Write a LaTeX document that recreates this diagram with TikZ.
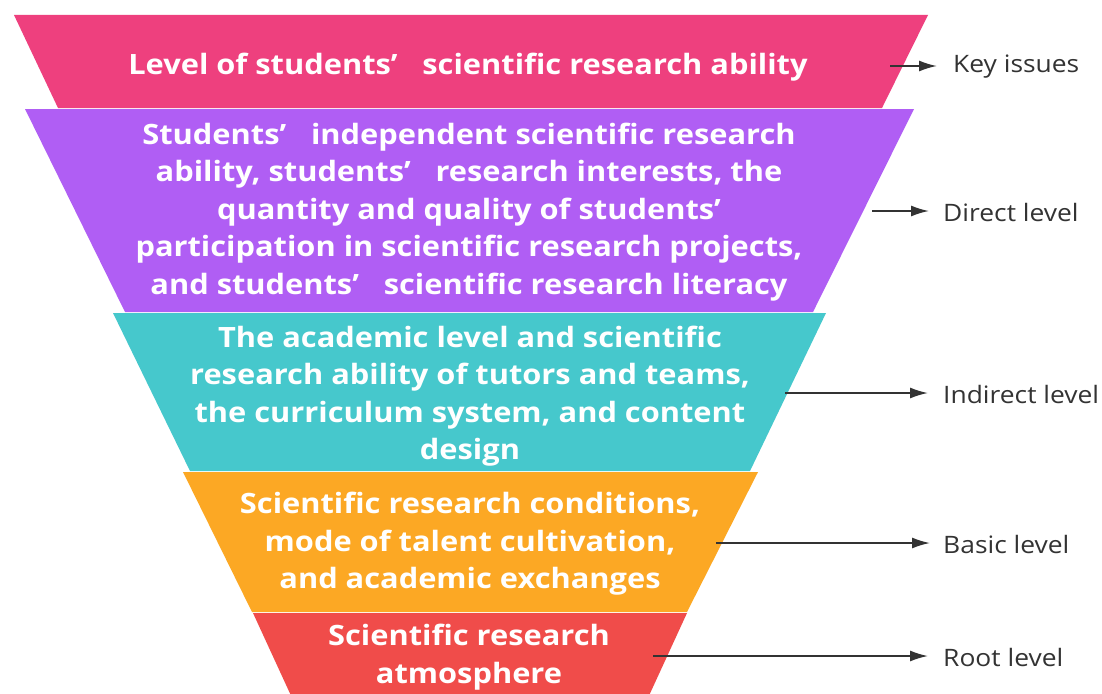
\documentclass[tikz,border=0pt]{standalone}
\usepackage{fontspec}
\setmainfont{Open Sans}[FakeStretch=1.1]
\usetikzlibrary{arrows.meta}
\definecolor{bandpink}{RGB}{238,64,126}
\definecolor{bandpurple}{RGB}{176,94,244}
\definecolor{bandteal}{RGB}{70,200,204}
\definecolor{bandorange}{RGB}{252,168,36}
\definecolor{bandred}{RGB}{240,76,74}
\definecolor{labelgray}{RGB}{51,51,51}
\tikzset{
  bandtext/.style={text=white, font=\fontsize{28}{37.5}\selectfont\bfseries, align=center, inner sep=0pt},
  leveltext/.style={text=labelgray, font=\fontsize{24}{28}\selectfont, anchor=west, inner sep=0pt},
  pointer/.style={draw=labelgray, line width=1.8pt, -{Latex[length=18pt,width=11pt]}}
}
\begin{document}
\begin{tikzpicture}[x=1pt,y=-1pt]
\clip (0,0) rectangle (1102,693);
\fill[white] (0,0) rectangle (1102,693);
% funnel bands
\fill[bandpink]   (14,15)  -- (928,15)  -- (882,108) -- (58,108)  -- cycle;
\fill[bandpurple] (25,109) -- (914,109) -- (813,312) -- (125,312) -- cycle;
\fill[bandteal]   (113,313) -- (826,313) -- (750,471) -- (190,471) -- cycle;
\fill[bandorange] (183,472) -- (758,472) -- (687,612) -- (252,612) -- cycle;
\fill[bandred]    (253,613) -- (687,613) -- (647,700) -- (293,700) -- cycle;
% band texts
\node[bandtext] (t1) at (468,67) {Level of students’\hspace{0.6em} scientific research ability};
\node[bandtext] (t2) at (469,212) {Students’\hspace{0.6em} independent scientific research\\ability, students’\hspace{0.6em} research interests, the\\quantity and quality of students’\\participation in scientific research projects,\\and students’\hspace{0.6em} scientific research literacy};
\node[bandtext] (t3) at (470,396) {The academic level and scientific\\research ability of tutors and teams,\\the curriculum system, and content\\design};
\node[bandtext] (t4) at (470,544) {Scientific research conditions,\\mode of talent cultivation,\\and academic exchanges};
\node[bandtext] (t5) at (469,657) {Scientific research\\atmosphere};
% level labels
\node[leveltext] (l1) at (953,67) {Key issues};
\node[leveltext] (l2) at (943,212) {Direct level};
\node[leveltext] (l3) at (943,394) {Indirect level};
\node[leveltext] (l4) at (943,544) {Basic level};
\node[leveltext] (l5) at (943,657) {Root level};
% arrow starts
\coordinate (s1) at (890,66);
\coordinate (s2) at (872,211);
\coordinate (s3) at (785,393);
\coordinate (s4) at (716,543);
\coordinate (s5) at (653,656);
\draw[pointer] (s1) -- ([xshift=-16pt]l1.west|-s1);
\draw[pointer] (s2) -- ([xshift=-14pt]l2.west|-s2);
\draw[pointer] (s3) -- ([xshift=-15pt]l3.west|-s3);
\draw[pointer] (s4) -- ([xshift=-13pt]l4.west|-s4);
\draw[pointer] (s5) -- ([xshift=-15pt]l5.west|-s5);
\end{tikzpicture}
\end{document}
